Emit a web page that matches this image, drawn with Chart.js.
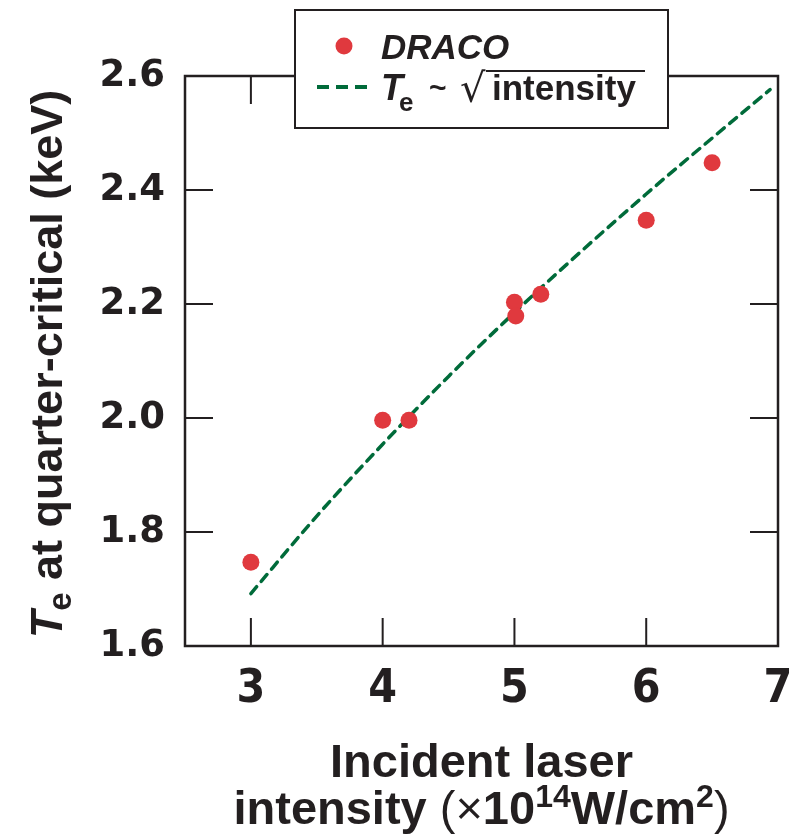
<!DOCTYPE html>
<html>
<head>
<meta charset="utf-8">
<script src="https://cdn.jsdelivr.net/npm/chart.js@4"></script>
<style>
  html, body { margin: 0; padding: 0; background: #fff; }
  #wrap { width: 795px; height: 837px; }
</style>
</head>
<body>
<div id="wrap"><canvas id="myChart" width="795" height="837"></canvas></div>
<script>
// DRACO simulation points
var dracoX = [3, 4, 4.2, 5, 5.01, 5.2, 6, 6.5];
var dracoY = [1.747, 1.996, 1.996, 2.203, 2.179, 2.217, 2.347, 2.448];

// Te ~ sqrt(intensity) curve
var fitX = [3, 3.5, 4, 4.5, 5, 5.5, 6, 6.5, 6.94];
var fitY = [1.692, 1.828, 1.954, 2.073, 2.185, 2.291, 2.393, 2.491, 2.576];

var xTicks = [3, 4, 5, 6, 7];
var yTicks = [1.6, 1.8, 2.0, 2.2, 2.4, 2.6];

var red = '#e0393e';
var green = '#006b3a';
var ink = '#231f20';
var sans = "'Liberation Sans', Arial, sans-serif";

function pts(xs, ys) {
    return xs.map(function (x, i) { return { x: x, y: ys[i] }; });
}

// frame box with inward tick marks on all four sides
var frame = {
    id: 'frame',
    beforeDatasetsDraw: function (chart) {
        var c = chart.ctx, a = chart.chartArea;
        var xs = chart.scales.x, ys = chart.scales.y;
        var len = 28;
        c.save();
        c.strokeStyle = ink;
        c.lineWidth = 2;
        c.beginPath();
        xTicks.forEach(function (v) {
            var px = xs.getPixelForValue(v);
            c.moveTo(px, a.bottom); c.lineTo(px, a.bottom - len);
            c.moveTo(px, a.top); c.lineTo(px, a.top + len);
        });
        yTicks.forEach(function (v) {
            var py = ys.getPixelForValue(v);
            c.moveTo(a.left, py); c.lineTo(a.left + len, py);
            c.moveTo(a.right, py); c.lineTo(a.right - len, py);
        });
        c.stroke();
        c.lineWidth = 2.5;
        c.strokeRect(a.left, a.top, a.right - a.left, a.bottom - a.top);
        c.restore();
    },
    afterDraw: function (chart) {
        var c = chart.ctx, a = chart.chartArea;
        c.save();
        c.fillStyle = ink;
        c.textBaseline = 'alphabetic';

        // y axis title
        c.save();
        c.translate(62, (a.top + a.bottom) / 2 + 3);
        c.rotate(-Math.PI / 2);
        var parts = [
            ['T', 'italic bold 45px ' + sans, 0],
            ['e', 'bold 33px ' + sans, 9],
            [' at quarter-critical (keV)', 'bold 45px ' + sans, 0]
        ];
        var w = 0;
        parts.forEach(function (p) { c.font = p[1]; w += c.measureText(p[0]).width; });
        var x = -w / 2;
        parts.forEach(function (p) {
            c.font = p[1];
            c.fillText(p[0], x, p[2]);
            x += c.measureText(p[0]).width;
        });
        c.restore();

        // x axis title, two lines
        var cx = (a.left + a.right) / 2;
        c.font = 'bold 47px ' + sans;
        c.textAlign = 'center';
        c.fillText('Incident laser', cx, 777);
        c.textAlign = 'left';
        var line2 = [
            ['intensity ', 'bold 47px ' + sans, 0],
            ['(', '47px ' + sans, 0],
            ['\u00d7', '47px ' + sans, 0],
            ['10', 'bold 47px ' + sans, 0],
            ['14', 'bold 32px ' + sans, -17],
            ['W/cm', 'bold 47px ' + sans, 0],
            ['2', 'bold 32px ' + sans, -17],
            [')', '47px ' + sans, 0]
        ];
        w = 0;
        line2.forEach(function (p) { c.font = p[1]; w += c.measureText(p[0]).width; });
        x = cx - w / 2;
        line2.forEach(function (p) {
            c.font = p[1];
            c.fillText(p[0], x, 824 + p[2]);
            x += c.measureText(p[0]).width;
        });

        // legend box
        c.fillStyle = '#fff';
        c.fillRect(295, 10, 373, 118);
        c.strokeStyle = ink;
        c.lineWidth = 2;
        c.strokeRect(295, 10, 373, 118);

        c.fillStyle = red;
        c.beginPath();
        c.arc(344, 46, 8.5, 0, Math.PI * 2);
        c.fill();

        c.fillStyle = ink;
        c.font = 'italic bold 35px ' + sans;
        c.fillText('DRACO', 381, 59);

        c.strokeStyle = green;
        c.lineWidth = 4;
        c.beginPath();
        [[317, 329], [336, 348], [355, 367]].forEach(function (s) {
            c.moveTo(s[0], 87); c.lineTo(s[1], 87);
        });
        c.stroke();

        c.fillStyle = ink;
        c.font = 'italic bold 36px ' + sans;
        c.fillText('T', 381, 100);
        c.font = 'bold 26px ' + sans;
        c.fillText('e', 399, 111);
        c.font = 'bold 30px ' + sans;
        c.fillText('~', 429, 98);
        c.font = '40px DejaVu Sans';
        c.fillText('\u221a', 460, 102);
        c.font = 'bold 35px ' + sans;
        c.fillText('intensity', 492, 100);
        c.strokeStyle = ink;
        c.lineWidth = 2;
        c.beginPath();
        c.moveTo(486, 71); c.lineTo(645, 71);
        c.stroke();
        c.restore();
    }
};

var ctx = document.getElementById('myChart').getContext('2d');
var myChart = new Chart(ctx, {
    type: 'scatter',
    data: {
        datasets: [{
            label: 'DRACO',
            data: pts(dracoX, dracoY),
            pointRadius: 8.5,
            pointBackgroundColor: red,
            pointBorderWidth: 0,
            showLine: false
        },
        {
            label: 'Te ~ sqrt(intensity)',
            data: pts(fitX, fitY),
            showLine: true,
            pointRadius: 0,
            borderColor: green,
            borderWidth: 3.5,
            borderDash: [9, 7],
            borderCapStyle: 'round',
            cubicInterpolationMode: 'monotone'
        }]
    },
    options: {
        responsive: false,
        animation: false,
        layout: { padding: { top: 76, right: 17, left: 0, bottom: 0 } },
        plugins: {
            legend: { display: false },
            tooltip: { enabled: false }
        },
        scales: {
            x: {
                type: 'linear',
                min: 2.5,
                max: 7,
                grid: { display: false },
                border: { display: false },
                afterBuildTicks: function (s) { s.ticks = xTicks.map(function (v) { return { value: v }; }); },
                afterFit: function (s) {
                    s.height = 191;
                    s.paddingLeft = 0;
                    s.paddingRight = 0;
                },
                ticks: {
                    color: ink,
                    padding: 8,
                    font: { family: "'DejaVu Sans Condensed', 'Liberation Sans Narrow', sans-serif", weight: 'bold', size: 46 }
                }
            },
            y: {
                min: 1.6,
                max: 2.6,
                grid: { display: false },
                border: { display: false },
                afterBuildTicks: function (s) { s.ticks = yTicks.map(function (v) { return { value: v }; }); },
                afterFit: function (s) { s.width = 185; },
                ticks: {
                    color: ink,
                    padding: 12,
                    font: { family: "'DejaVu Sans'", weight: 'bold', size: 37 },
                    callback: function (v) { return v.toFixed(1); }
                }
            }
        }
    },
    plugins: [frame]
});
</script>
</body>
</html>
